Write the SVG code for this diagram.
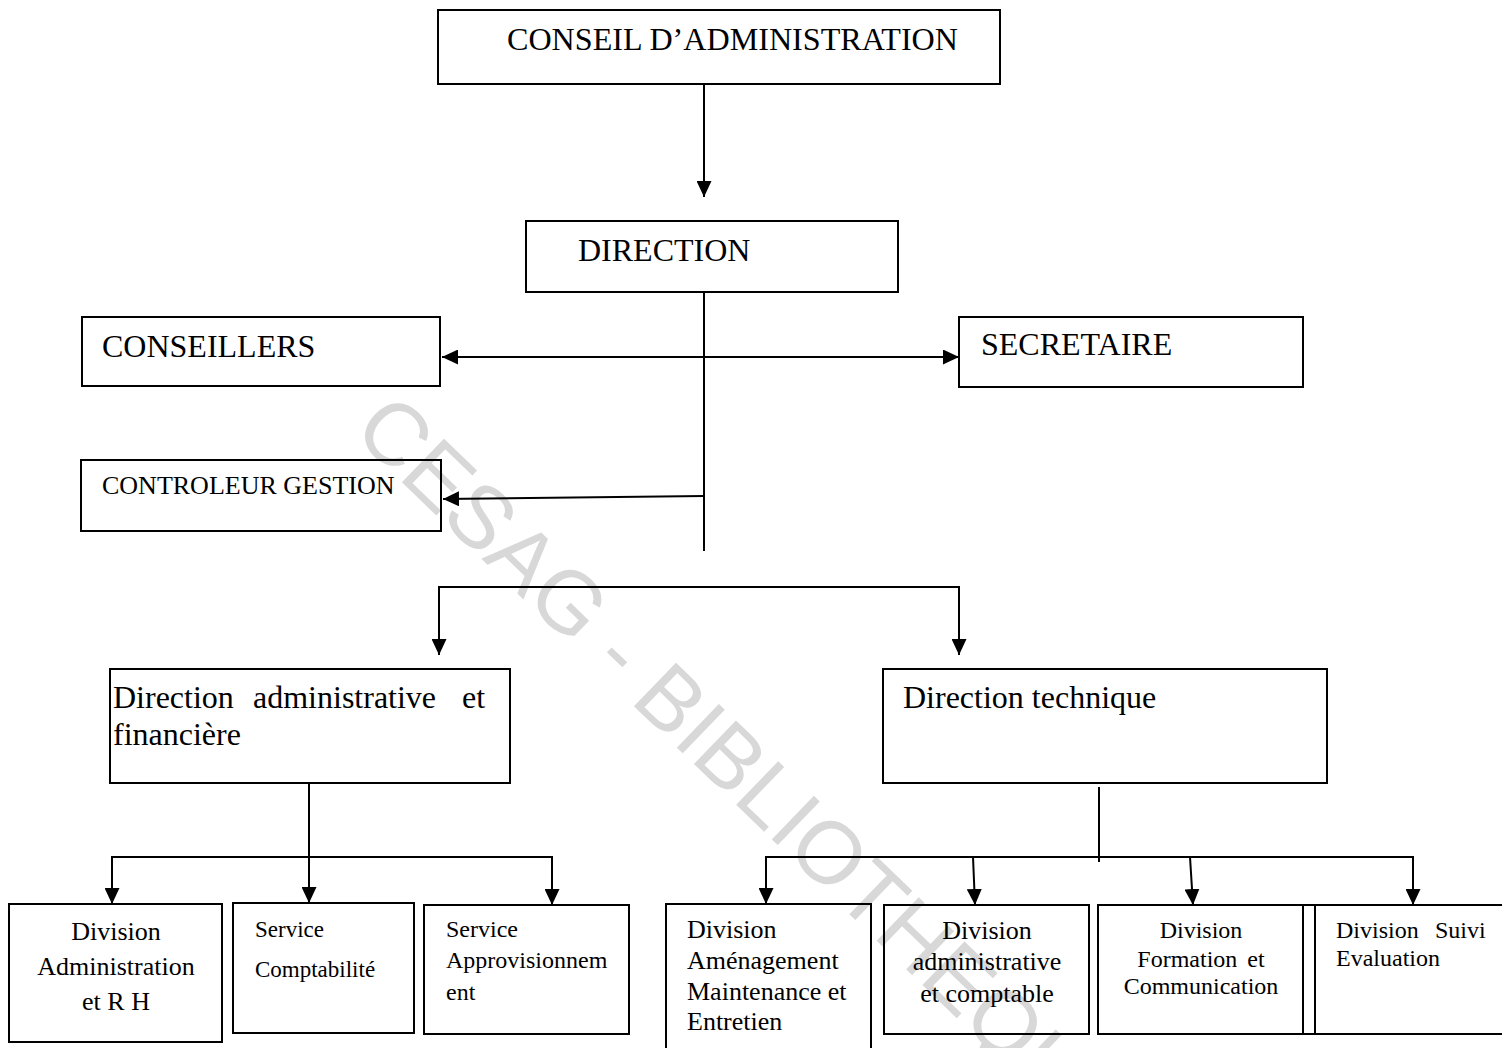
<svg xmlns="http://www.w3.org/2000/svg" width="1502" height="1048" viewBox="0 0 1502 1048">
<style>
.box{fill:none;stroke:#000;stroke-width:2}
.ln{fill:none;stroke:#000;stroke-width:2}
.t{font-family:"Liberation Serif","Times New Roman",serif;fill:#000}
.t32{font-size:32px}
.t26{font-size:26px}
.t24{font-size:24px}
.t23{font-size:23px}
.wm{font-family:"Liberation Sans",Arial,sans-serif;font-size:88px;fill:#d8d8d8}
</style>
<defs>
<marker id="ah" markerUnits="userSpaceOnUse" markerWidth="16" markerHeight="15" refX="16" refY="7.5" orient="auto">
<path d="M0,0 L16,7.5 L0,15 z" fill="#000"/>
</marker>
<marker id="ahs" markerUnits="userSpaceOnUse" markerWidth="16" markerHeight="15" refX="0" refY="7.5" orient="auto">
<path d="M16,0 L0,7.5 L16,15 z" fill="#000"/>
</marker>
</defs>
<rect x="0" y="0" width="1502" height="1048" fill="#fff"/>
<text class="wm" transform="translate(351,433) rotate(44)">CESAG - BIBLIOTHEQUE</text>

<g id="connectors">
<line class="ln" x1="704" y1="84" x2="704" y2="197" marker-end="url(#ah)"/>
<line class="ln" x1="704" y1="292" x2="704" y2="551"/>
<line class="ln" x1="442" y1="357" x2="959" y2="357" marker-start="url(#ahs)" marker-end="url(#ah)"/>
<line class="ln" x1="704" y1="496" x2="443" y2="499" marker-end="url(#ah)"/>
<line class="ln" x1="439" y1="587" x2="960" y2="587"/>
<line class="ln" x1="439" y1="586" x2="439" y2="655" marker-end="url(#ah)"/>
<line class="ln" x1="959" y1="586" x2="959" y2="655" marker-end="url(#ah)"/>
<line class="ln" x1="309" y1="783" x2="309" y2="903" marker-end="url(#ah)"/>
<line class="ln" x1="111" y1="857" x2="553" y2="857"/>
<line class="ln" x1="112" y1="856" x2="112" y2="904" marker-end="url(#ah)"/>
<line class="ln" x1="552" y1="856" x2="552" y2="905" marker-end="url(#ah)"/>
<line class="ln" x1="1099" y1="787" x2="1099" y2="862"/>
<line class="ln" x1="765" y1="857" x2="1414" y2="857"/>
<line class="ln" x1="766" y1="856" x2="766" y2="904" marker-end="url(#ah)"/>
<line class="ln" x1="973" y1="857" x2="975" y2="905" marker-end="url(#ah)"/>
<line class="ln" x1="1190" y1="857" x2="1193" y2="905" marker-end="url(#ah)"/>
<line class="ln" x1="1413" y1="856" x2="1413" y2="905" marker-end="url(#ah)"/>
</g>

<g id="conseil">
<rect class="box" x="438" y="10" width="562" height="74"/>
<text class="t t32" x="507" y="50" textLength="451" lengthAdjust="spacingAndGlyphs">CONSEIL D’ADMINISTRATION</text>
</g>
<g id="direction">
<rect class="box" x="526" y="221" width="372" height="71"/>
<text class="t t32" x="578" y="261">DIRECTION</text>
</g>
<g id="conseillers">
<rect class="box" x="82" y="317" width="358" height="69"/>
<text class="t t32" x="102" y="357">CONSEILLERS</text>
</g>
<g id="secretaire">
<rect class="box" x="959" y="317" width="344" height="70"/>
<text class="t t32" x="981" y="355">SECRETAIRE</text>
</g>
<g id="controleur">
<rect class="box" x="81" y="460" width="360" height="71"/>
<text class="t t26" x="102" y="494">CONTROLEUR GESTION</text>
</g>
<g id="daf">
<rect class="box" x="110" y="669" width="400" height="114"/>
<text class="t t32" y="708"><tspan x="113">Direction</tspan><tspan x="253">administrative</tspan><tspan x="462">et</tspan></text>
<text class="t t32" x="113" y="745">financière</text>
</g>
<g id="dt">
<rect class="box" x="883" y="669" width="444" height="114"/>
<text class="t t32" x="903" y="708">Direction technique</text>
</g>
<g id="div-admin-rh">
<rect class="box" x="9" y="904" width="213" height="138"/>
<text class="t t26" text-anchor="middle"><tspan x="116" y="940">Division</tspan><tspan x="116" y="975">Administration</tspan><tspan x="116" y="1010">et R H</tspan></text>
</g>
<g id="serv-compta">
<rect class="box" x="233" y="903" width="181" height="130"/>
<text class="t t23"><tspan x="255" y="937">Service</tspan><tspan x="255" y="977">Comptabilité</tspan></text>
</g>
<g id="serv-appro">
<rect class="box" x="424" y="905" width="205" height="129"/>
<text class="t t24"><tspan x="446" y="937">Service</tspan><tspan x="446" y="968">Approvisionnem</tspan><tspan x="446" y="1000">ent</tspan></text>
</g>
<g id="div-amenagement">
<rect class="box" x="666" y="904" width="205" height="160"/>
<text class="t t26"><tspan x="687" y="938">Division</tspan><tspan x="687" y="969">Aménagement</tspan><tspan x="687" y="1000">Maintenance et</tspan><tspan x="687" y="1030">Entretien</tspan></text>
</g>
<g id="div-admin-compta">
<rect class="box" x="884" y="905" width="205" height="129"/>
<text class="t t26" text-anchor="middle"><tspan x="987" y="939">Division</tspan><tspan x="987" y="970">administrative</tspan><tspan x="987" y="1002">et comptable</tspan></text>
</g>
<g id="div-formation">
<rect class="box" x="1098" y="905" width="205" height="129"/>
<text class="t t24" text-anchor="middle"><tspan x="1201" y="938">Division</tspan><tspan x="1201" y="967" word-spacing="4">Formation et</tspan><tspan x="1201" y="994">Communication</tspan></text>
</g>
<g id="div-suivi">
<rect class="box" x="1315" y="905" width="200" height="129"/>
<line class="ln" x1="1303" y1="905" x2="1315" y2="905"/>
<line class="ln" x1="1303" y1="1034" x2="1315" y2="1034"/>
<text class="t t24" y="938"><tspan x="1336">Division</tspan><tspan x="1435">Suivi</tspan></text>
<text class="t t24" x="1336" y="966">Evaluation</text>
</g>
</svg>
